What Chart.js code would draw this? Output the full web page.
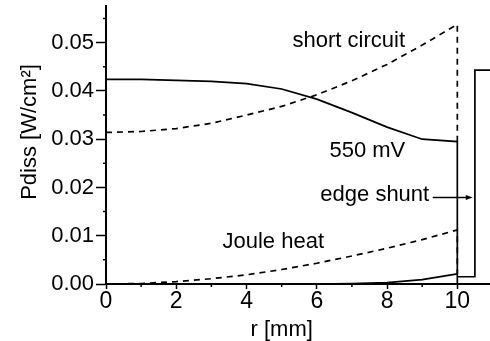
<!DOCTYPE html>
<html>
<head>
<meta charset="utf-8">
<script src="https://cdn.jsdelivr.net/npm/chart.js@4.4.1/dist/chart.umd.min.js"></script>
<style>
  body { margin: 0; background: #fff; }
  #wrap { width: 490px; height: 341px; }
</style>
</head>
<body>
<div id="wrap"><canvas id="pdiss"></canvas></div>
<script>
// r in mm, Pdiss in W/cm2
const radius = [0, 1, 2, 3, 4, 5, 6, 7, 8, 9, 10];
const pdiss550 = [0.0424, 0.0424, 0.0422, 0.0420, 0.0415, 0.0404, 0.0383, 0.0355, 0.0325, 0.0300, 0.0295];
const joule550 = [0, 0, 0, 0, 0, 0, 0, 0.0001, 0.0003, 0.0009, 0.0021];
const shortCircuit = [0.0314, 0.0316, 0.0322, 0.0333, 0.0350, 0.0368, 0.0392, 0.0421, 0.0455, 0.0495, 0.0538];
const jouleShort = [0, 0.0001, 0.0005, 0.0011, 0.0019, 0.0030, 0.0043, 0.0058, 0.0074, 0.0092, 0.0112];

// edge shunt region (r > 10 mm)
const edgeR = [10, 10, 10, 10.5, 10.5, 10.93];
const edge550 = [0.0295, 0, 0.0015, 0.0015, 0.0443, 0.0443];
const shortEdge = [0.0295];
const jouleEdge = [0.0021];

const xTicks = [0, 2, 4, 6, 8, 10];
const xMinor = [1, 3, 5, 7, 9];
const yTicks = [0, 0.01, 0.02, 0.03, 0.04, 0.05];
const yMinor = [0.005, 0.015, 0.025, 0.035, 0.045, 0.055];

const FONT = "'Liberation Sans', Arial, sans-serif";

const pts = (xs, ys) => xs.map((x, i) => ({ x: x, y: ys[i] }));

const extras = {
  id: "extras",
  afterDraw(chart) {
    const ctx = chart.ctx;
    const xs = chart.scales.x;
    const ys = chart.scales.y;
    const area = chart.chartArea;
    ctx.save();
    ctx.strokeStyle = "#000";
    ctx.fillStyle = "#000";
    ctx.lineWidth = 1.5;

    // minor ticks
    ctx.beginPath();
    for (const v of yMinor) {
      const py = ys.getPixelForValue(v);
      ctx.moveTo(area.left - 3, py);
      ctx.lineTo(area.left, py);
    }
    for (const v of xMinor) {
      const px = xs.getPixelForValue(v);
      ctx.moveTo(px, area.bottom);
      ctx.lineTo(px, area.bottom + 3);
    }
    ctx.stroke();

    // curve labels
    ctx.font = "22px " + FONT;
    ctx.textAlign = "center";
    ctx.textBaseline = "alphabetic";
    const notes = [
      ["short circuit", 6.91, 0.0491],
      ["550 mV", 7.44, 0.0264],
      ["edge shunt", 7.65, 0.0171],
      ["Joule heat", 4.76, 0.0074],
    ];
    for (const [t, r, p] of notes) {
      ctx.fillText(t, xs.getPixelForValue(r), ys.getPixelForValue(p));
    }

    // arrow to the edge shunt
    const ay = ys.getPixelForValue(0.0179);
    const ax0 = xs.getPixelForValue(9.3);
    const ax1 = xs.getPixelForValue(10.44);
    ctx.beginPath();
    ctx.moveTo(ax0, ay);
    ctx.lineTo(ax1 - 4, ay);
    ctx.stroke();
    ctx.beginPath();
    ctx.moveTo(ax1, ay);
    ctx.lineTo(ax1 - 7, ay - 2.5);
    ctx.lineTo(ax1 - 7, ay + 2.5);
    ctx.closePath();
    ctx.fill();

    // axis titles
    ctx.font = "22px " + FONT;
    ctx.textAlign = "center";
    ctx.fillText("r [mm]", (xs.getPixelForValue(0) + xs.getPixelForValue(10)) / 2, 336);
    ctx.translate(area.left - 76, 132);
    ctx.rotate(-Math.PI / 2);
    ctx.textBaseline = "middle";
    ctx.fillText("Pdiss [W/cm²]", 0, 0);
    ctx.restore();
  },
};

const line = (data, dashed) => ({
  data: data,
  borderColor: "#000",
  borderWidth: 1.7,
  borderDash: dashed ? [6, 5] : [],
  pointRadius: 0,
  fill: false,
  tension: 0,
});

new Chart(document.getElementById("pdiss"), {
  type: "line",
  data: {
    datasets: [
      line(pts(radius, pdiss550).concat(pts(edgeR, edge550)), false),
      line(pts(radius, joule550), false),
      line(pts(radius, shortCircuit).concat(pts([10], shortEdge)), true),
      line(pts(radius, jouleShort).concat(pts([10], jouleEdge)), true),
    ],
  },
  options: {
    responsive: true,
    maintainAspectRatio: false,
    animation: false,
    layout: { padding: { top: 6, right: 0, left: 0, bottom: 0 } },
    plugins: {
      legend: { display: false },
      tooltip: { enabled: false },
    },
    scales: {
      x: {
        type: "linear",
        min: 0,
        max: 10.93,
        afterBuildTicks: (s) => { s.ticks = xTicks.map((v) => ({ value: v })); },
        afterFit: (s) => { s.height = 57; s.paddingLeft = 0; s.paddingRight = 0; },
        grid: { drawOnChartArea: false, color: "#000", tickLength: 5, tickWidth: 1.5 },
        border: { color: "#000", width: 2 },
        ticks: { color: "#000", padding: -1, maxRotation: 0, font: { family: FONT, size: 23 } },
      },
      y: {
        type: "linear",
        min: 0,
        max: 0.0576,
        afterBuildTicks: (s) => { s.ticks = yTicks.map((v) => ({ value: v })); },
        afterFit: (s) => { s.width = 106; s.paddingTop = 0; s.paddingBottom = 0; },
        grid: { drawOnChartArea: false, color: "#000", tickLength: 10, tickWidth: 1.5 },
        border: { color: "#000", width: 2 },
        ticks: {
          color: "#000",
          padding: 2,
          font: { family: FONT, size: 22 },
          callback: (v) => v.toFixed(2),
        },
      },
    },
  },
  plugins: [extras],
});
</script>
</body>
</html>
